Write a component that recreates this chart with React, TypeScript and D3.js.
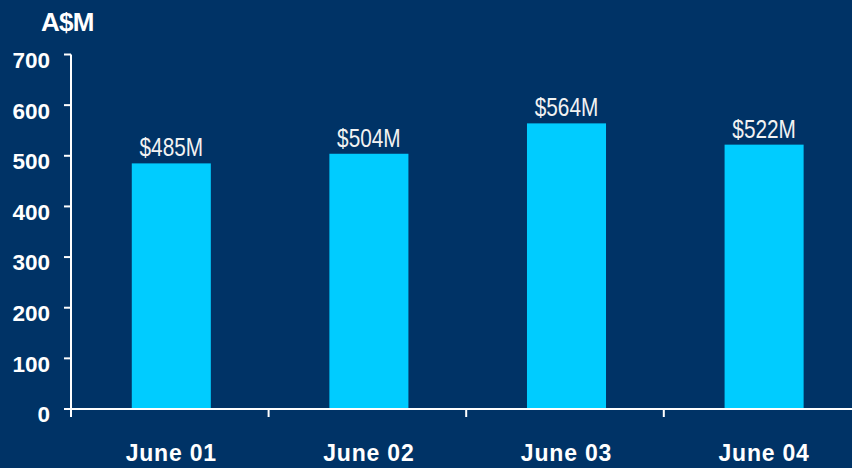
import React from 'react';
import * as d3 from 'd3';

// chart data
const categories = ['June 01', 'June 02', 'June 03', 'June 04'];
const values = [485, 504, 564, 522];
const valueLabels = ['$485M', '$504M', '$564M', '$522M'];
const yTicks = [0, 100, 200, 300, 400, 500, 600, 700];

const W = 852;
const H = 468;
const BG = '#003366';
const BAR = '#00ccff';

export default function App() {
  const left = 71;
  const y0 = 409;

  const y = d3.scaleLinear().domain([0, 700]).range([y0, 54.5]);
  const x = d3
    .scaleBand<string>()
    .domain(categories)
    .range([left, left + 4 * 197.6])
    .paddingInner(0.6)
    .paddingOuter(0.3);

  const gap = (x.step() - x.bandwidth()) / 2;
  const shift = 1.5; // bars sit a touch right of band centre

  return (
    <div style={{ position: 'absolute', left: 0, top: 0 }}>
      <svg width={W} height={H} style={{ display: 'block' }}>
        <rect width={W} height={H} fill={BG} />

        {/* bars */}
        {categories.map((c, i) => (
          <rect
            key={c}
            x={(x(c) as number) + shift}
            y={y(values[i])}
            width={x.bandwidth()}
            height={y0 - y(values[i])}
            fill={BAR}
          />
        ))}

        {/* value labels, narrow face */}
        {categories.map((c, i) => (
          <g
            key={'v' + c}
            transform={`translate(${(x(c) as number) + shift + x.bandwidth() / 2},${y(values[i]) - 7}) scale(0.8,1)`}
          >
            <text
              textAnchor="middle"
              fill="#f2f2f2"
              fontFamily="'Liberation Sans', Arial, sans-serif"
              fontSize={26}
            >
              {valueLabels[i]}
            </text>
          </g>
        ))}

        {/* y axis */}
        <line x1={left} x2={left} y1={y(700)} y2={y0 + 8} stroke="#fff" strokeWidth={2} />
        {yTicks.map((t) => (
          <g key={t}>
            <line x1={left - 7} x2={left} y1={y(t)} y2={y(t)} stroke="#fff" strokeWidth={2} />
            <text
              x={50}
              y={y(t) + 5.5}
              dy="0.35em"
              textAnchor="end"
              fill="#fff"
              fontFamily="'Liberation Sans', Arial, sans-serif"
              fontWeight="bold"
              fontSize={22.5}
            >
              {t}
            </text>
          </g>
        ))}

        {/* x axis */}
        <line x1={left} x2={W} y1={y0} y2={y0} stroke="#fff" strokeWidth={2} />
        {categories.map((c) => (
          <line
            key={'t' + c}
            x1={(x(c) as number) + x.bandwidth() + gap}
            x2={(x(c) as number) + x.bandwidth() + gap}
            y1={y0}
            y2={y0 + 8}
            stroke="#fff"
            strokeWidth={2}
          />
        ))}
        {categories.map((c) => (
          <text
            key={'l' + c}
            x={(x(c) as number) + shift + x.bandwidth() / 2}
            y={461}
            textAnchor="middle"
            fill="#fff"
            fontFamily="'Liberation Sans', Arial, sans-serif"
            fontWeight="bold"
            fontSize={23}
            letterSpacing={0.8}
          >
            {c}
          </text>
        ))}

        {/* unit title */}
        <text
          x={41}
          y={31}
          fill="#fff"
          fontFamily="'Liberation Sans', Arial, sans-serif"
          fontWeight="bold"
          fontSize={26}
          letterSpacing={-0.8}
        >
          A$M
        </text>
      </svg>
    </div>
  );
}
